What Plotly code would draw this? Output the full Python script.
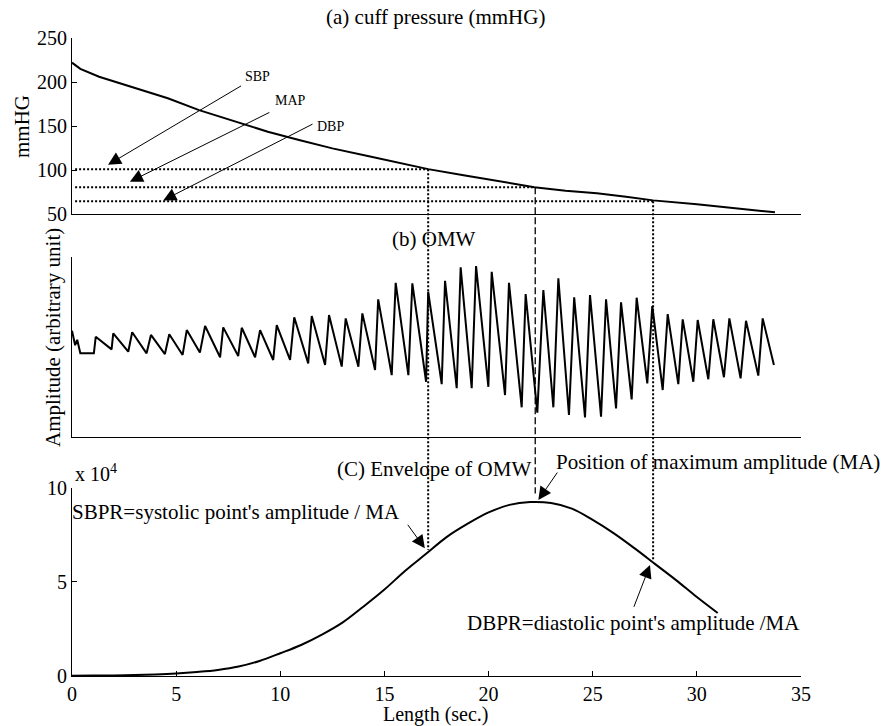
import plotly.graph_objects as go

# ---------------- data ----------------
# (a) cuff pressure (mmHG)
press_t = [0, 0.4, 1.3, 2.9, 4.6, 6.1, 7.7, 9.4, 10.9, 12.5, 14.2, 15.8, 17.1, 18.8,
           20.4, 22.2, 23.7, 25.2, 26.6, 27.9, 30.0, 31.6, 33.2, 33.75]
press_v = [222, 215, 206, 194, 181.5, 168, 156, 143.5, 134, 124.6, 116, 107.6, 101, 94,
           88, 80.5, 76.5, 73.5, 69.7, 65.5, 61, 57.5, 54, 52]

# (b) OMW key points (troughs / peaks), arbitrary units 0..100
omw_t = [0.0, 0.15, 0.25, 0.4, 1.05, 1.14,
         1.9, 1.98, 2.70, 2.89, 3.58, 3.79, 4.46, 4.67, 5.31, 5.51, 6.14, 6.39,
         7.11, 7.26, 7.98, 8.15, 8.79, 9.03, 9.66, 9.83, 10.47, 10.67, 11.34, 11.51,
         12.15, 12.34, 12.95, 13.14, 13.75, 13.94, 14.55, 14.70, 15.35, 15.54,
         16.15, 16.34, 17.0, 17.1, 17.75, 17.91, 18.47, 18.66, 19.19, 19.40,
         19.99, 20.15, 20.79, 20.98, 21.59, 21.78, 22.34, 22.63, 23.11, 23.35,
         23.86, 24.11, 24.63, 24.87, 25.40, 25.64, 26.12, 26.36, 26.87, 27.11,
         27.62, 27.86, 28.36, 28.60, 29.11, 29.32, 29.83, 30.04, 30.55, 30.79,
         31.30, 31.56, 32.10, 32.36, 32.95, 33.16, 33.70]
omw_v = [59, 51, 54, 46.5, 46.5, 55.7,
         48.7, 57.6, 47.4, 58.2, 46.5, 56.7, 46.1, 57.1, 45.6, 59.4, 46.9, 61.7,
         44.3, 60.9, 45, 60.7, 44.3, 59.4, 42.8, 62.2, 42.8, 66.5, 40.9, 67.2,
         40, 67.8, 39.1, 65.9, 39.1, 68.7, 37.2, 76.5, 34.4, 85.7,
         34.4, 85.4, 30.7, 80.7, 29.4, 86.8, 27.1, 94.3, 27.1, 95,
         27.9, 91.8, 23.3, 85.7, 16.5, 79.4, 13.5, 81.7, 16.5, 88.2,
         12.2, 77.6, 10.9, 78.9, 11.3, 76.5, 15.9, 74.8, 20.9, 77.4,
         29.8, 72.8, 26.1, 68.3, 29.4, 65.4, 30.7, 65, 32.1, 65.4,
         33.2, 65.9, 32.6, 64.6, 34.1, 65.9, 40]

# (C) envelope of OMW
env_t = [0, 1, 2, 3, 4, 5, 6, 7, 8, 9, 10, 11, 12, 13, 14, 15, 16, 17, 18, 19, 20,
         21, 22, 23, 24, 25, 26, 27, 28, 29, 30, 31]
env_v = [100, 200, 300, 500, 800, 1300, 2100, 3200, 5000, 8000, 12100, 16500, 22000,
         28500, 37000, 46000, 56000, 65000, 74000, 81000, 87000, 91000, 92500, 92000,
         89000, 83000, 76000, 68000, 59500, 51000, 42000, 33500]

# characteristic points
sbp_t, map_t, dbp_t = 17.1, 22.24, 27.9
sbp_p, map_p, dbp_p = 101, 80.3, 64.4
sbp_env, map_env, dbp_env = 67000, 97000, 61500

x_ticks = [0, 5, 10, 15, 20, 25, 30, 35]
p_ticks = [50, 100, 150, 200, 250]
e_ticks = [0, 50000, 100000]
e_ticklabels = ['0', '5', '10']

# ---------------- layout geometry ----------------
X_RANGE = [0, 35]
DOM = {'top': [0.7241, 1.0], 'mid': [0.3746, 0.6567], 'bot': [0.0, 0.2947]}
RNG = {'top': [50, 250], 'mid': [0, 100], 'bot': [0, 100000]}


def py(panel, v):
    d0, d1 = DOM[panel]
    r0, r1 = RNG[panel]
    return d0 + (v - r0) / (r1 - r0) * (d1 - d0)


def px(t):
    return (t - X_RANGE[0]) / (X_RANGE[1] - X_RANGE[0])


FONT = 'Liberation Serif'
BIG = 20
TXT = 21

fig = go.Figure()
line = dict(color='black', width=2)
fig.add_trace(go.Scatter(x=press_t, y=press_v, mode='lines', line=line,
                         xaxis='x', yaxis='y', showlegend=False))
fig.add_trace(go.Scatter(x=omw_t, y=omw_v, mode='lines', line=line,
                         xaxis='x2', yaxis='y2', showlegend=False))
fig.add_trace(go.Scatter(x=env_t, y=env_v, mode='lines',
                         line=dict(color='black', width=2, shape='spline', smoothing=1.0),
                         xaxis='x3', yaxis='y3', showlegend=False))

ax_common = dict(showline=True, linecolor='black', linewidth=1, showgrid=False,
                 zeroline=False, mirror=False,
                 tickfont=dict(family=FONT, size=BIG, color='black'))

fig.update_layout(
    width=885, height=726,
    margin=dict(l=72, r=84, t=38, b=50),
    paper_bgcolor='white', plot_bgcolor='white',
    font=dict(family=FONT, size=BIG, color='black'),
    xaxis=dict(domain=[0, 1], range=X_RANGE, anchor='y', ticks='', showticklabels=False, **ax_common),
    yaxis=dict(domain=DOM['top'], range=RNG['top'], anchor='x', tickvals=p_ticks,
               ticks='inside', ticklen=5, tickcolor='black', **ax_common),
    xaxis2=dict(domain=[0, 1], range=X_RANGE, anchor='y2', ticks='', showticklabels=False, **ax_common),
    yaxis2=dict(domain=DOM['mid'], range=RNG['mid'], anchor='x2', ticks='', showticklabels=False, **ax_common),
    xaxis3=dict(domain=[0, 1], range=X_RANGE, anchor='y3', tickvals=x_ticks,
                ticks='inside', ticklen=5, tickcolor='black', **ax_common),
    yaxis3=dict(domain=DOM['bot'], range=RNG['bot'], anchor='x3', tickvals=e_ticks,
                ticktext=e_ticklabels, ticks='inside', ticklen=5, tickcolor='black', **ax_common),
)

# horizontal dotted lines in panel (a)
dot = dict(color='black', width=2, dash='2px,2px')
for t_end, lvl in [(sbp_t, sbp_p), (map_t, map_p), (dbp_t, dbp_p)]:
    fig.add_shape(type='line', xref='x', yref='y', x0=0.15, x1=t_end, y0=lvl, y1=lvl, line=dot)

# vertical lines crossing panels
fig.add_shape(type='line', xref='x', yref='paper', x0=sbp_t, x1=sbp_t,
              y0=py('top', sbp_p), y1=py('bot', sbp_env), line=dot)
fig.add_shape(type='line', xref='x', yref='paper', x0=map_t, x1=map_t,
              y0=py('top', map_p), y1=py('bot', map_env),
              line=dict(color='black', width=1.3, dash='7px,3px'))
fig.add_shape(type='line', xref='x', yref='paper', x0=dbp_t, x1=dbp_t,
              y0=py('top', dbp_p), y1=py('bot', dbp_env), line=dot)

ann = []


def text(x, y, s, size=TXT, xanchor='center', yanchor='middle', angle=0):
    ann.append(dict(x=x, y=y, xref='paper', yref='paper', text=s, showarrow=False,
                    xanchor=xanchor, yanchor=yanchor, textangle=angle,
                    font=dict(family=FONT, size=size, color='black')))


def arrow(xr, yr, tip, tail):
    ann.append(dict(x=tip[0], y=tip[1], ax=tail[0], ay=tail[1], xref=xr, yref=yr,
                    axref=xr, ayref=yr, text='', showarrow=True, arrowhead=2,
                    arrowsize=2.6, arrowwidth=1, arrowcolor='black', standoff=0))


# titles
text(0.4993, py('top', 250) + 0.033, '(a) cuff pressure (mmHG)')
text(0.4966, py('mid', 100) + 0.028, '(b) OMW')
text(0.4966, py('bot', 100000) + 0.029, '(C) Envelope of OMW')
text(px(0.05), py('bot', 108000), 'x 10<sup>4</sup>', size=BIG, xanchor='left')
text(0.4993, -0.0596, 'Length (sec.)', size=BIG)
text(-0.0686, 0.862, 'mmHG', angle=-90)
text(-0.026, 0.5298, 'Amplitude (arbitrary unit)', angle=-90)

# panel (a) arrows + labels
arrow('x', 'y', (1.73, 106), (8.19, 196.6))
arrow('x', 'y', (2.78, 86.7), (9.55, 166.3))
arrow('x', 'y', (4.38, 65.5), (11.62, 153))
text(px(8.2), py('top', 205.7), 'SBP', size=14, xanchor='left')
text(px(9.65), py('top', 179.5), 'MAP', size=14, xanchor='left')
text(px(11.67), py('top', 148.9), 'DBP', size=14, xanchor='left')

# panel (C) arrows + labels
arrow('x3', 'y3', (16.94, 67900), (16.07, 81200))
arrow('x3', 'y3', (22.39, 93600), (23.35, 109000))
arrow('x3', 'y3', (27.75, 59000), (26.95, 36000))
text(px(-0.1), py('bot', 87400), "SBPR=systolic point's amplitude / MA", xanchor='left')
text(px(23.15), py('bot', 114000), 'Position of maximum amplitude (MA)', xanchor='left')
text(px(18.87), py('bot', 28000), "DBPR=diastolic point's amplitude /MA", xanchor='left')

fig.update_layout(annotations=ann)
fig.write_html('out.html', config={'displayModeBar': False},
               post_script="document.body.style.margin='0';document.body.style.padding='0';")
